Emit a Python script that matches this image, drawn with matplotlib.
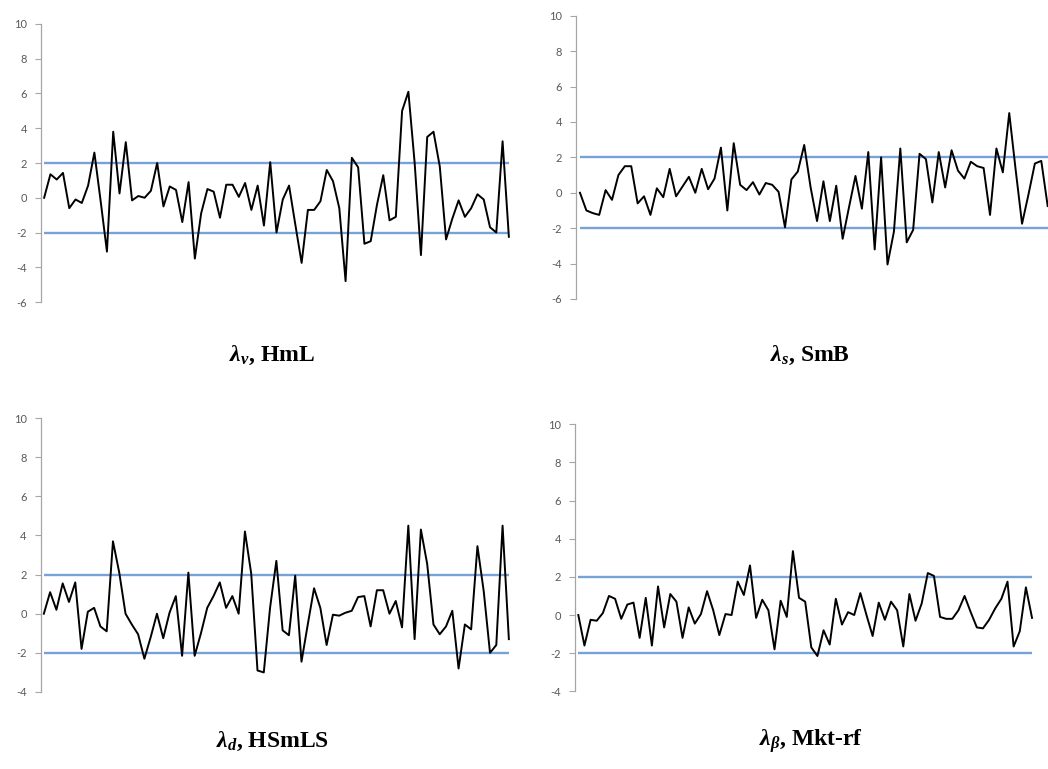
import numpy as np
import matplotlib
matplotlib.use('Agg')
import matplotlib.pyplot as plt

plt.rcParams['mathtext.fontset'] = 'custom'
plt.rcParams['mathtext.it'] = 'Liberation Serif:bold:italic'
plt.rcParams['mathtext.rm'] = 'Liberation Serif:bold'
plt.rcParams['mathtext.bf'] = 'Liberation Serif:bold'
plt.rcParams['axes.unicode_minus'] = False

# lambda series
hml = [0, 1.35, 1.05, 1.43, -0.6, -0.1, -0.3, 0.7, 2.6, -0.2,
       -3.1, 3.8, 0.25, 3.2, -0.15, 0.1, 0.0, 0.4, 2.0, -0.5,
       0.65, 0.45, -1.4, 0.9, -3.5, -0.9, 0.5, 0.35, -1.15, 0.75,
       0.75, 0.05, 0.85, -0.7, 0.7, -1.6, 2.05, -2.0, -0.1, 0.7,
       -1.55, -3.75, -0.7, -0.7, -0.2, 1.6, 0.95, -0.6, -4.8, 2.3,
       1.75, -2.65, -2.5, -0.4, 1.3, -1.3, -1.1, 5.0, 6.1, 2.0,
       -3.3, 3.5, 3.8, 1.8, -2.4, -1.2, -0.15, -1.1, -0.6, 0.2,
       -0.1, -1.7, -2.0, 3.25, -2.25]
smb = [0, -1.0, -1.15, -1.25, 0.15, -0.4, 1.0, 1.5, 1.5, -0.6,
       -0.2, -1.25, 0.25, -0.25, 1.35, -0.2, 0.35, 0.9, 0.0, 1.35,
       0.2, 0.8, 2.55, -1.0, 2.8, 0.45, 0.15, 0.6, -0.1, 0.55,
       0.45, 0.05, -1.95, 0.75, 1.2, 2.7, 0.3, -1.6, 0.65, -1.6,
       0.4, -2.6, -0.8, 0.95, -0.9, 2.3, -3.2, 2.0, -4.05, -2.2,
       2.5, -2.8, -2.1, 2.2, 1.9, -0.55, 2.3, 0.3, 2.4, 1.25,
       0.8, 1.75, 1.5, 1.4, -1.25, 2.5, 1.15, 4.5, 1.3, -1.75,
       -0.1, 1.65, 1.8, -0.75]
hsmls = [0, 1.1, 0.2, 1.55, 0.6, 1.6, -1.8, 0.1, 0.3, -0.65,
         -0.9, 3.7, 2.1, 0.0, -0.55, -1.05, -2.3, -1.2, 0.0, -1.25,
         0.05, 0.9, -2.15, 2.1, -2.15, -1.0, 0.3, 0.9, 1.6, 0.3,
         0.9, 0.0, 4.2, 2.05, -2.9, -3.0, 0.3, 2.7, -0.85, -1.1,
         1.95, -2.45, -0.55, 1.3, 0.3, -1.6, -0.05, -0.1, 0.05, 0.15,
         0.85, 0.9, -0.65, 1.2, 1.2, 0.0, 0.65, -0.7, 4.5, -1.3,
         4.3, 2.55, -0.55, -1.05, -0.65, 0.15, -2.8, -0.55, -0.8, 3.45,
         1.15, -2.0, -1.6, 4.5, -1.3]
mktrf = [0, -1.6, -0.25, -0.3, 0.1, 1.0, 0.85, -0.2, 0.55, 0.65,
         -1.2, 0.9, -1.6, 1.5, -0.65, 1.1, 0.7, -1.2, 0.4, -0.45,
         0.05, 1.25, 0.25, -1.05, 0.05, 0.0, 1.75, 1.05, 2.6, -0.15,
         0.8, 0.25, -1.8, 0.75, -0.1, 3.35, 0.9, 0.7, -1.7, -2.15,
         -0.8, -1.55, 0.85, -0.5, 0.15, 0.0, 1.15, 0.0, -1.1, 0.65,
         -0.25, 0.7, 0.25, -1.65, 1.1, -0.3, 0.6, 2.2, 2.05, -0.1,
         -0.2, -0.2, 0.25, 1.0, 0.15, -0.65, -0.7, -0.25, 0.35, 0.85,
         1.75, -1.65, -0.85, 1.45, -0.15]

titles = [r'$\lambda_{v}$, HmL', r'$\lambda_{s}$, SmB',
          r'$\lambda_{d}$, HSmLS', r'$\lambda_{\beta}$, Mkt-rf']
bands = [2, -2]

W, H = 1048, 769
fig = plt.figure(figsize=(W / 100, H / 100), dpi=100)


def px_axes(x0, x1, ytop, ybot):
    return fig.add_axes([x0 / W, 1 - ybot / H, (x1 - x0) / W, (ybot - ytop) / H])


panels = [
    # series, axes box (px), xlim, ylim, title pos (px)
    (hml, (41, 512, 24, 302), (-0.5, 74.5), (-6, 10), (272, 355)),
    (smb, (576, 1048, 15.7, 299), (-0.62, 73.05), (-6, 10), (810, 355)),
    (hsmls, (40.7, 512, 418, 692), (-0.5, 74.5), (-4, 10), (273, 741)),
    (mktrf, (575, 1040, 424.3, 691.3), (-0.54, 75.3), (-4, 10), (811, 741)),
]

for (vals, box, xl, yl, tpos), title in zip(panels, titles):
    ax = px_axes(*box)
    x = np.arange(len(vals))
    for b in bands:
        ax.plot([x[0], x[-1]], [b, b], color='#77a2d8', lw=1.7,
                solid_capstyle='butt')
    ax.plot(x, vals, color='black', lw=1.4)
    ax.set_xlim(*xl)
    ax.set_ylim(*yl)
    ax.set_yticks(np.arange(yl[0], yl[1] + 1, 2))
    for s in ['top', 'right', 'bottom']:
        ax.spines[s].set_visible(False)
    ax.spines['left'].set_color('#a6a6a6')
    ax.spines['left'].set_linewidth(0.9)
    ax.set_xticks([])
    ax.tick_params(axis='y', length=4, width=0.8, color='#a6a6a6',
                   labelsize=8, labelcolor='#595959', pad=6)
    for lab in ax.get_yticklabels():
        lab.set_family('Lato')
    ax.patch.set_alpha(0)
    fig.text(tpos[0] / W, 1 - tpos[1] / H, title, ha='center', va='center',
             fontsize=17, family='Liberation Serif', weight='bold')

fig.savefig('out.png', dpi=100)
